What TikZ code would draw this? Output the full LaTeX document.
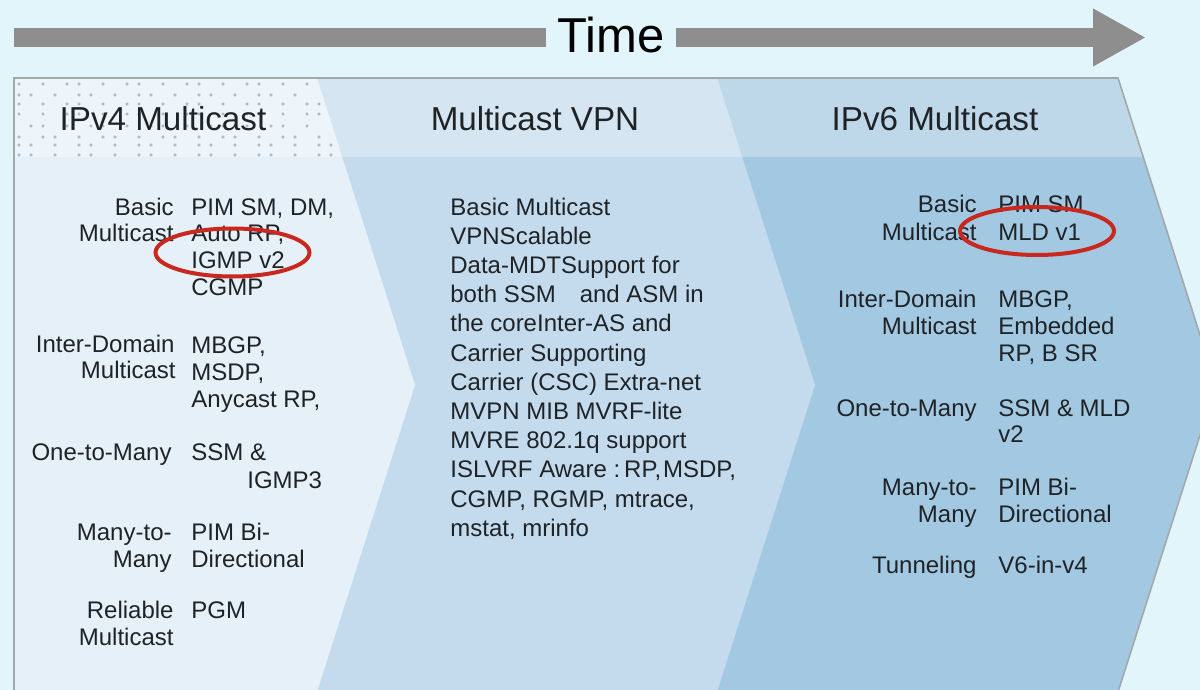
\documentclass[tikz,border=0pt]{standalone}
\usepackage{fontspec}
\setmainfont{Liberation Sans}
\usetikzlibrary{arrows.meta}

\definecolor{pagebg}{HTML}{E1F5FA}
\definecolor{bandA}{HTML}{E6F0F8}
\definecolor{bandB}{HTML}{C3DBED}
\definecolor{bandC}{HTML}{A3C8E2}
\definecolor{rim}{HTML}{A3A9AB}
\definecolor{barcol}{HTML}{8E8E8E}
\definecolor{ink}{HTML}{1F2326}
\definecolor{ring}{HTML}{C8281E}
\definecolor{dotcol}{HTML}{9AA5AB}

\tikzset{
  txt/.style={inner sep=0pt, text=ink, font=\fontsize{12pt}{14pt}\selectfont},
  lab/.style={txt, anchor=base east},
  val/.style={txt, anchor=base west},
  head/.style={inner sep=0pt, text=ink, anchor=base, font=\fontsize{16.6pt}{19pt}\selectfont},
  timebar/.style={draw=barcol, line width=9.5pt},
  ringline/.style={draw=ring, line width=2pt},
}

\begin{document}
\begin{tikzpicture}[x=0.5pt, y=-0.5pt]
  % page
  \fill[pagebg] (0,0) rectangle (1200,690);
  \useasboundingbox (0,0) rectangle (1200,690);

  % three overlapping chevrons, darkest at the back
  \fill[bandC] (14,78) -- (1118,78) -- (1216,385) -- (1118,692) -- (14,692) -- cycle;
  \fill[bandB] (14,78) -- (717,78) -- (815,385) -- (717,692) -- (14,692) -- cycle;
  \fill[bandA] (14,78) -- (317,78) -- (415,385) -- (317,692) -- (14,692) -- cycle;

  % lighter heading strip
  \begin{scope}
    \clip (14,78) -- (1118,78) -- (1216,385) -- (1118,692) -- (14,692) -- cycle;
    \fill[white, opacity=0.3] (14,78) rectangle (1220,157);
  \end{scope}

  % dotted texture behind the first heading
  \foreach \yy in {84,95,104,114,126,137,145,155} {
    \foreach \xx in {0,...,26} {
      \pgfmathtruncatemacro{\keep}{(mod(\xx*7+\yy*3,5)<3) && (19+12*\xx < 311+0.32*(\yy-78))}
      \ifnum\keep=1
        \draw[dotcol, line width=0.3pt] (19+12*\xx,\yy) circle[radius=0.65pt];
      \fi
    }
  }

  % outline of the panel
  \draw[rim, line width=0.8pt] (14,692) -- (14,78) -- (1118,78) -- (1216,385) -- (1118,692);

  % time axis
  \node[inner sep=0pt, inner xsep=5.5pt, text=black, anchor=base,
        font=\fontsize{24.5pt}{28pt}\selectfont] (time) at (611,53) {Time};
  \coordinate (tstart) at (14,37.5);
  \coordinate (tend) at (1146,37.5);
  \draw[timebar] (tstart) -- (time.west |- tstart);
  \draw[timebar, -{Triangle[length=26.5pt, width=27pt]}] (time.east |- tend) -- (tend);

  % headings
  \node[head] (h1) at (163,131) {IPv4 Multicast};
  \node[head] (h2) at (535,131) {Multicast VPN};
  \node[head] (h3) at (935,131) {IPv6 Multicast};

  % IPv4 column
  \node[lab] (a1)  at (174,215) {Basic};
  \node[lab] (a2)  at (174,242) {Multicast};
  \node[lab] (a3)  at (175,352) {Inter-Domain};
  \node[lab] (a4)  at (176,378) {Multicast};
  \node[lab] (a5)  at (172,460) {One-to-Many};
  \node[lab] (a6)  at (172,540) {Many-to-};
  \node[lab] (a7)  at (172,567) {Many};
  \node[lab] (a8)  at (174,618) {Reliable};
  \node[lab] (a9)  at (174,645) {Multicast};

  \node[val] (b1)  at (191,215) {PIM SM, DM,};
  \node[val] (b2)  at (191,242) {Auto RP,};
  \node[val] (b3)  at (191,268) {IGMP v2};
  \node[val] (b4)  at (191,295) {CGMP};
  \node[val] (b5)  at (191,353) {MBGP,};
  \node[val] (b6)  at (191,380) {MSDP,};
  \node[val] (b7)  at (191,407) {Anycast RP,};
  \node[val] (b8)  at (191,460) {SSM \&};
  \node[val] (b9)  at (247,488) {IGMP3};
  \node[val] (b10) at (191,540) {PIM Bi-};
  \node[val] (b11) at (191,567) {Directional};
  \node[val] (b12) at (191,618) {PGM};

  % Multicast VPN column
  \foreach \t [count=\i from 0] in {
      Basic Multicast,
      VPNScalable,
      Data-MDTSupport for,
      {both SSM\hspace{12pt}and ASM in},
      the coreInter-AS and,
      Carrier Supporting,
      Carrier (CSC) Extra-net,
      MVPN MIB MVRF-lite,
      MVRE 802.1q support,
      {ISLVRF Aware :\kern2pt RP,\kern1pt MSDP,},
      {CGMP, RGMP, mtrace,},
      {mstat, mrinfo}} {
    \node[val] (m\i) at (450,215+29.2*\i) {\t};
  }

  % IPv6 column
  \node[lab] (c1) at (977,213) {Basic};
  \node[lab] (c2) at (977,240) {Multicast};
  \node[lab] (c3) at (977,307) {Inter-Domain};
  \node[lab] (c4) at (977,334) {Multicast};
  \node[lab] (c5) at (977,416) {One-to-Many};
  \node[lab] (c6) at (977,495) {Many-to-};
  \node[lab] (c7) at (977,522) {Many};
  \node[lab] (c8) at (977,573) {Tunneling};

  \node[val] (d1)  at (998,213) {PIM SM};
  \node[val] (d2)  at (998,240) {MLD v1};
  \node[val] (d3)  at (998,307) {MBGP,};
  \node[val] (d4)  at (998,334) {Embedded};
  \node[val] (d5)  at (998,361) {RP, B SR};
  \node[val] (d6)  at (998,416) {SSM \& MLD};
  \node[val] (d7)  at (998,442) {v2};
  \node[val] (d8)  at (998,495) {PIM Bi-};
  \node[val] (d9)  at (998,522) {Directional};
  \node[val] (d10) at (998,573) {V6-in-v4};

  % red highlight rings
  \draw[ringline] (232.5,252.5) ellipse [x radius=38.5pt, y radius=12pt];
  \draw[ringline] (1037,231) ellipse [x radius=38.5pt, y radius=12pt];
\end{tikzpicture}
\end{document}
